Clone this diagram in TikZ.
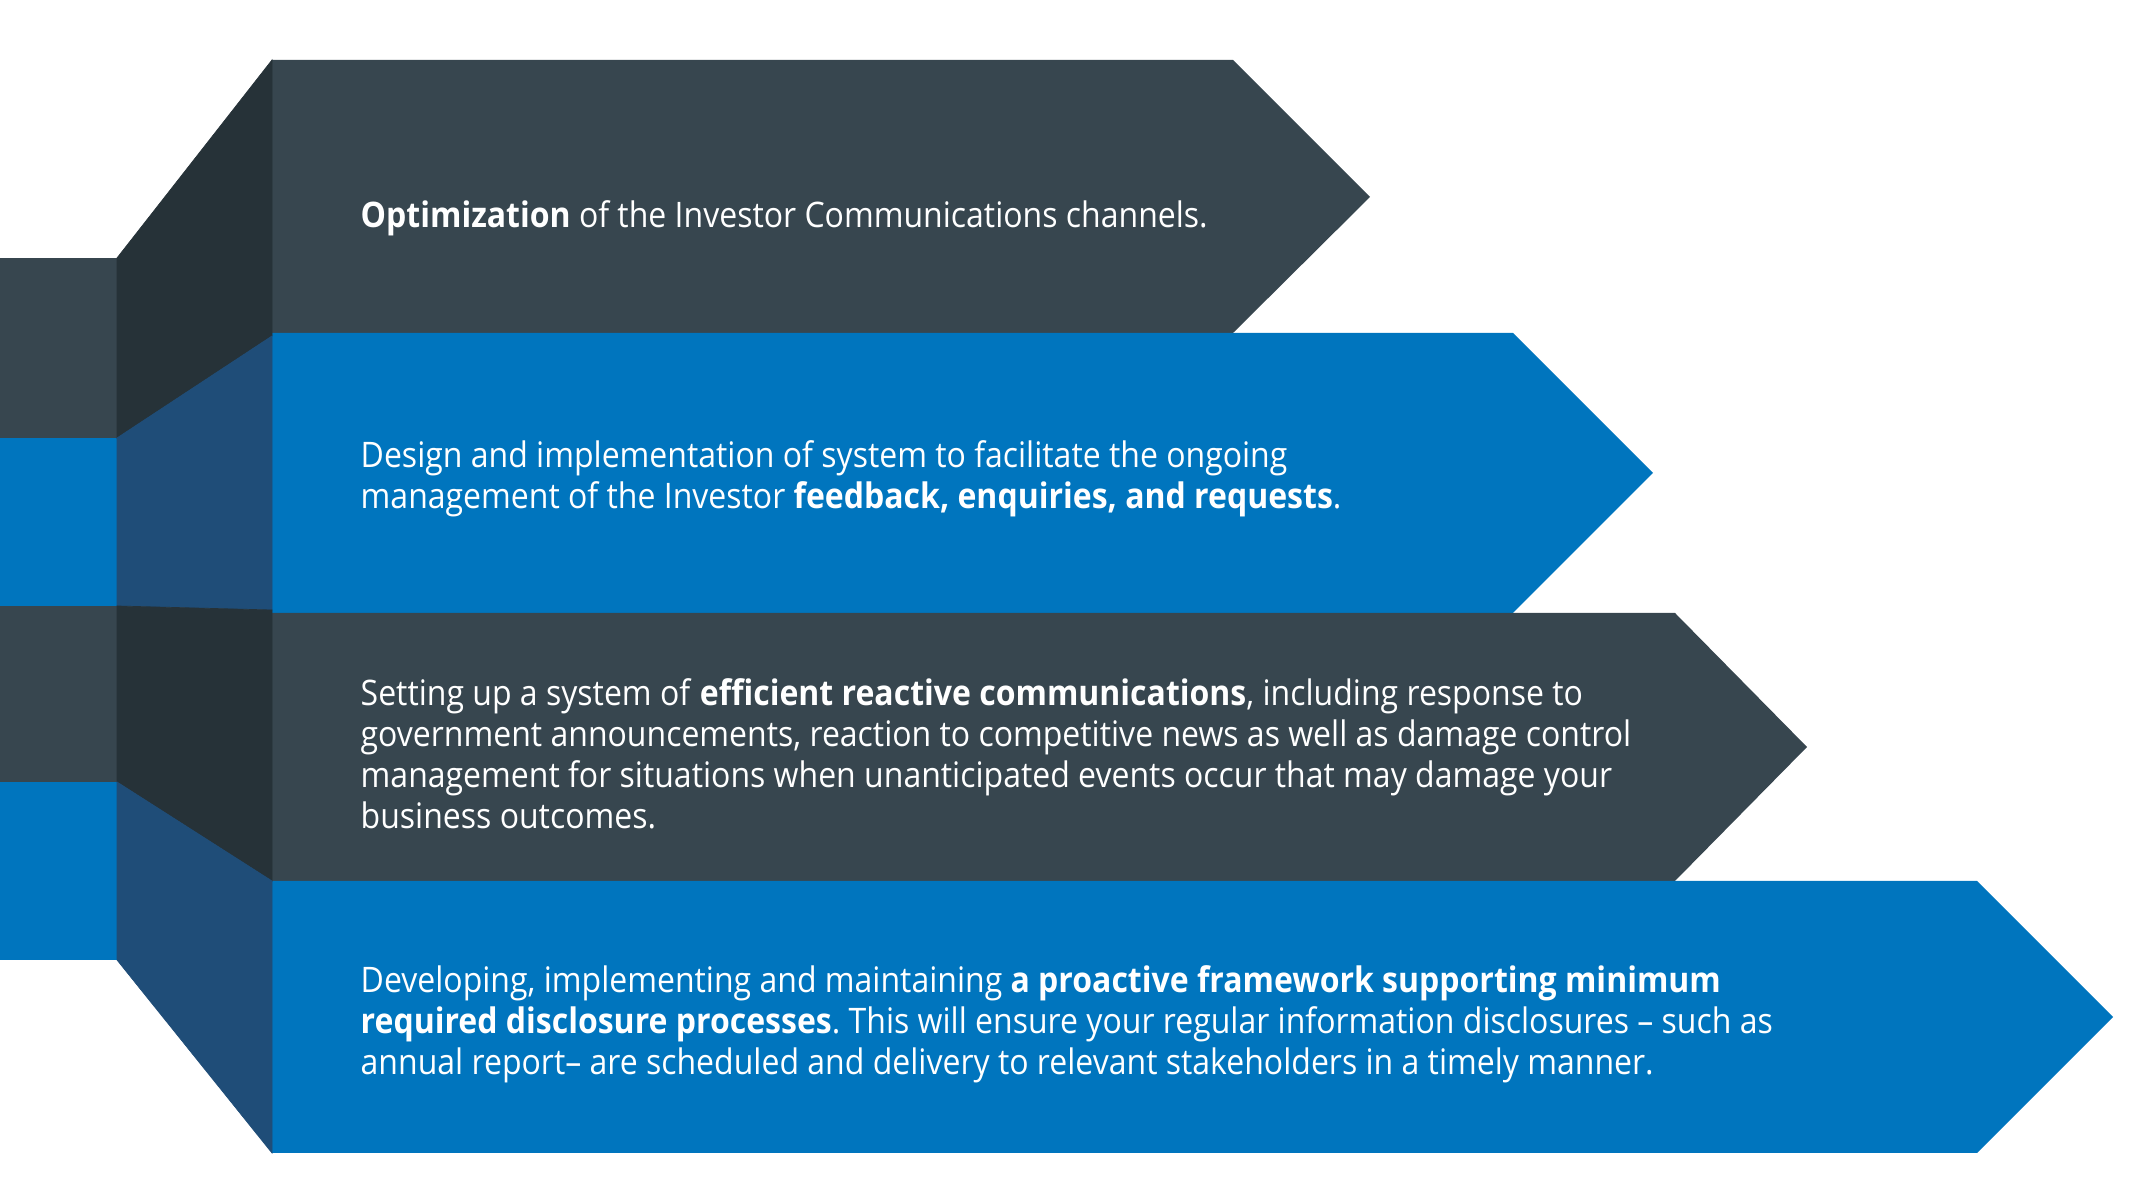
\documentclass[tikz,border=0pt]{standalone}
\usepackage{fontspec}
\setmainfont{Open Sans}[FakeStretch=0.91]
\usepackage{tikz}
\definecolor{slate}{HTML}{37464F}
\definecolor{slatedark}{HTML}{263238}
\definecolor{ocean}{HTML}{0075BE}
\definecolor{navy}{HTML}{1F4D78}
\frenchspacing

\begin{document}
\begin{tikzpicture}[x=0.01cm, y=-0.01cm, fold/.style={fill=#1, draw=#1, line width=0.2pt}, itemtext/.style={anchor=base west, align=left, inner sep=0pt, text=white, font=\fontsize{10}{11.74}\selectfont}]

\useasboundingbox (0,0) rectangle (2156,1204);

% ARROWS

\fill[slate] (272,60) -- (1233,60) -- (1370,197) -- (1233,333) -- (272,333) -- cycle;
\fill[ocean] (272,333) -- (1513,333) -- (1653,473) -- (1513,613) -- (272,613) -- cycle;
\fill[slate] (272,613) -- (1675,613) -- (1807,747) -- (1675,881) -- (272,881) -- cycle;
\fill[ocean] (272,881) -- (1977,881) -- (2113,1017) -- (1977,1153) -- (272,1153) -- cycle;

% LEFT STRIP AND FOLDS

\fill[slate] (0,258) rectangle (117,438);
\fill[ocean] (0,438) rectangle (117,606);
\fill[slate] (0,606) rectangle (117,782);
\fill[ocean] (0,782) rectangle (117,960);

\path[fold=slatedark] (117,258) -- (272,60) -- (272,336) -- (117,438) -- cycle;
\path[fold=navy] (117,438) -- (272,336) -- (272,610) -- (117,606) -- cycle;
\path[fold=slatedark] (117,606) -- (272,610) -- (272,881) -- (117,782) -- cycle;
\path[fold=navy] (117,782) -- (272,881) -- (272,1153) -- (117,960) -- cycle;

% TEXTS

\node[itemtext] (optimization) at (360,228) {\textbf{Optimization} of the Investor Communications channels.};

\node[itemtext] (feedback) at (360,509) {Design and implementation of system to facilitate the ongoing\\
management of the Investor \textbf{feedback, enquiries, and requests}.};

\node[itemtext] (reactive) at (360,829) {Setting up a system of \textbf{efficient reactive communications}, including response to\\
government announcements, reaction to competitive news as well as damage control\\
management for situations when unanticipated events occur that may damage your\\
business outcomes.};

\node[itemtext] (proactive) at (360,1075) {Developing, implementing and maintaining \textbf{a proactive framework supporting minimum}\\
\textbf{required disclosure processes}. This will ensure your regular information disclosures -- such as\\
annual report-- are scheduled and delivery to relevant stakeholders in a timely manner.};

\end{tikzpicture}
\end{document}
